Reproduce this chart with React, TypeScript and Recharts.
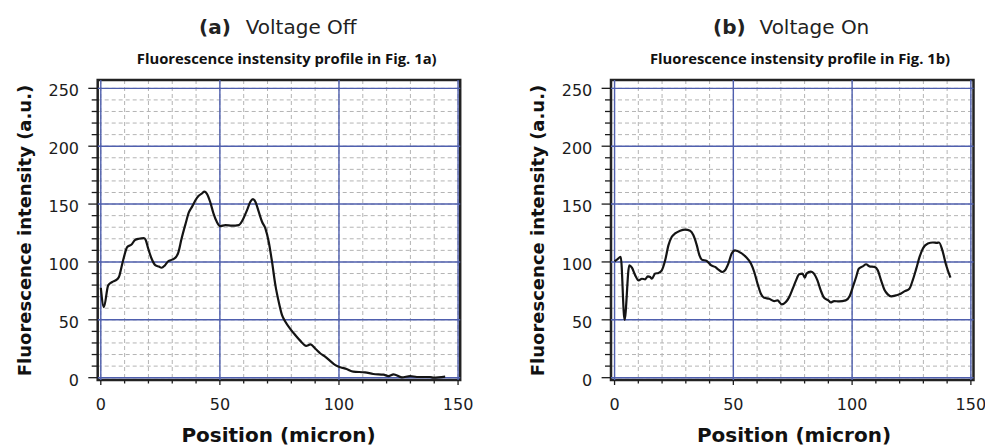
import React from "react";
import {
  CartesianGrid,
  Line,
  LineChart,
  ReferenceArea,
  ReferenceLine,
  XAxis,
  YAxis,
} from "recharts";

// panel (a): voltage off
const posA = [
  0, 1.3, 3.1, 4.8, 6.2, 7.6, 8.7, 9.7, 11.1, 12.9, 14.3, 16, 18.1, 18.9, 19.9,
  21.3, 23, 24.4, 25.5, 26.9, 28.3, 30, 31.4, 32.5, 33.9, 35.6, 37, 38.4, 39.8,
  41, 42.4, 43.5, 44.5, 45.9, 47.3, 48.7, 50.1, 52.3, 55.1, 57.9, 59.5, 61.4,
  62.8, 63.9, 64.9, 66.3, 67.7, 69.1, 70.5, 71.9, 73.3, 74.7, 76.1, 77.5, 79.6,
  81.7, 83.8, 86.2, 88, 90.1, 92.2, 94.3, 96.4, 98.5, 100.6, 103.2, 106, 110.9,
  114.4, 118.7, 120.8, 122.9, 126.4, 129.9, 132.7, 138.3, 139.7, 144.6,
];
const intensityA = [
  77.7, 61, 79.8, 82.7, 84, 87, 95.7, 104, 113, 115, 118.8, 120, 120.5, 118.8,
  111.6, 103, 97, 96, 95, 97, 100.6, 102, 103.8, 107.8, 120, 133, 143, 148,
  153.5, 157, 159, 160.7, 159, 152, 142, 134.7, 131, 131.8, 131.3, 131.8, 136,
  144.8, 152, 154.3, 152, 143.4, 134.7, 129, 117.4, 100, 80, 65.6, 54, 48.3, 42,
  36.7, 31.8, 27.5, 28.7, 25, 20.9, 18, 14.3, 10.8, 9, 7.5, 5.2, 4.6, 3.2, 2.6,
  1.4, 2.9, 0.3, 1.4, 0.6, 0.6, 0, 0.9,
];

// panel (b): voltage on
const posB = [
  0, 1, 2.6, 4.2, 6.2, 7.3, 8.7, 10.1, 11.5, 12.9, 14, 15, 15.7, 17.1, 18.5,
  19.9, 21.3, 22.7, 24.1, 25.5, 27.6, 29.7, 31.8, 33.2, 34.6, 35.7, 36.7, 38.8,
  40.7, 42.3, 43.7, 45.4, 46.5, 47.9, 49.3, 50.7, 53.2, 55.3, 57.4, 58.8, 60.2,
  61.6, 63, 65.1, 67.2, 68.6, 70.4, 72.1, 73.5, 75, 76.4, 77.7, 79.1, 80.1,
  80.8, 82.6, 83.7, 85.4, 86.8, 88.2, 90, 91, 92.4, 94.5, 97.3, 99, 100.4,
  101.7, 102.8, 104.5, 105.9, 107.3, 109.4, 110.8, 112.2, 113.6, 115, 116.4,
  118.5, 119.9, 122, 124.1, 125.5, 127, 128.4, 129.8, 131.9, 134, 135.7, 136.6,
  138, 139.6, 141.4,
];
const intensityB = [
  100.6, 102, 104.5, 50, 97, 95, 88.4, 84, 85.5, 85, 87.6, 87, 85.5, 90, 90.5,
  92.8, 101.4, 114.5, 121.7, 124.6, 127, 128, 127, 123, 114.5, 105.8, 102,
  100.9, 97, 95.7, 93.4, 91.3, 92.8, 98.6, 107.2, 110, 107.8, 104.3, 98.6, 91.3,
  81.2, 72.5, 69, 68.2, 66.2, 66.8, 63.3, 65.3, 69.6, 76.9, 84.1, 89.3, 89.9,
  86.4, 89.9, 91.6, 90.5, 84.1, 75.4, 69, 66.8, 65, 66.2, 65.9, 66.8, 70.5, 79,
  87, 94.2, 96.2, 98, 96.2, 95.7, 92.8, 84.1, 76, 72, 70.2, 71.1, 72, 74.6,
  76.9, 84.1, 94.2, 104.3, 111.6, 115.9, 116.8, 116.5, 116.8, 110, 97.1, 86.4,
];

const xTicks = [0, 10, 20, 30, 40, 50, 60, 70, 80, 90, 100, 110, 120, 130, 140, 150];
const yTicks = [
  0, 10, 20, 30, 40, 50, 60, 70, 80, 90, 100, 110, 120, 130, 140, 150, 160, 170,
  180, 190, 200, 210, 220, 230, 240, 250,
];
const xMajor = [0, 50, 100, 150];
const yMajor = [0, 50, 100, 150, 200, 250];

const FONT = "'DejaVu Sans', sans-serif";
const BLUE = "#4f5fae";
const INK = "#1c1c1c";

const YTick = (props: any) => {
  const { x, y, payload } = props;
  const major = payload.value % 50 === 0;
  return (
    <g>
      <line x1={x - (major ? 9.4 : 6)} x2={x} y1={y} y2={y} stroke={INK} strokeWidth={1.3} />
      {major && (
        <text x={x - 18.7} y={y} dy={8} textAnchor="end" fontSize={16} fontFamily={FONT} fill={INK}>
          {payload.value}
        </text>
      )}
    </g>
  );
};

const XTick = (props: any) => {
  const { x, y, payload } = props;
  const major = payload.value % 50 === 0;
  return (
    <g>
      <line x1={x} x2={x} y1={y} y2={y + (major ? 5 : 3.5)} stroke={INK} strokeWidth={1.3} />
      {major && (
        <text x={x} y={y} dy={30} textAnchor="middle" fontSize={16} fontFamily={FONT} fill={INK}>
          {payload.value}
        </text>
      )}
    </g>
  );
};

type PanelProps = {
  pos: number[];
  values: number[];
  left: number;
  width: number;
  margin: { top: number; right: number; bottom: number; left: number };
  xDomain: [number, number];
};

const yDomain: [number, number] = [-2, 257.2];

function Panel({ pos, values, left, width, margin, xDomain }: PanelProps) {
  const data = pos.map((p, i) => ({ x: p, y: values[i] }));
  return (
    <div style={{ position: "absolute", left, top: 0 }}>
      <LineChart width={width} height={446} data={data} margin={margin}>
        <CartesianGrid stroke="#b4b4b4" strokeDasharray="4 3" strokeWidth={1} />
        <XAxis
          type="number"
          dataKey="x"
          domain={xDomain}
          ticks={xTicks}
          interval={0}
          height={40}
          axisLine={false}
          tickLine={false}
          tickSize={0}
          tickMargin={0}
          tick={<XTick />}
        />
        <YAxis
          type="number"
          domain={yDomain}
          ticks={yTicks}
          interval={0}
          width={60}
          axisLine={false}
          tickLine={false}
          tickSize={0}
          tickMargin={0}
          tick={<YTick />}
        />
        {xMajor.map((v) => (
          <ReferenceLine key={`x${v}`} x={v} stroke={BLUE} strokeWidth={1.4} />
        ))}
        {yMajor.map((v) => (
          <ReferenceLine key={`y${v}`} y={v} stroke={BLUE} strokeWidth={1.4} />
        ))}
        <Line
          type="monotone"
          dataKey="y"
          stroke="#141414"
          strokeWidth={2.2}
          dot={false}
          isAnimationActive={false}
        />
        <ReferenceArea
          x1={xDomain[0]}
          x2={xDomain[1]}
          y1={yDomain[0]}
          y2={yDomain[1]}
          fill="none"
          stroke="#222"
          strokeWidth={2.5}
        />
      </LineChart>
    </div>
  );
}

function Labels() {
  // tag and name placed separately so the gap between them matches
  const title = (tagX: number, nameX: number, tag: string, name: string) => (
    <g fontSize={20} fontFamily={FONT} fill="#222">
      <text x={tagX} y={34.3} fontWeight="bold">
        {tag}
      </text>
      <text x={nameX} y={34.3}>
        {name}
      </text>
    </g>
  );
  const sub = (cx: number, txt: string) => (
    <text x={cx} y={64} textAnchor="middle" fontSize={14.8} fontWeight="bold" fontFamily="'Open Sans', sans-serif" fill="#111">
      {txt}
    </text>
  );
  const xLabel = (cx: number) => (
    <text x={cx} y={441.7} textAnchor="middle" fontSize={20} fontWeight="bold" fontFamily={FONT} fill="#111">
      Position (micron)
    </text>
  );
  const yLabel = (bx: number) => (
    <text
      x={bx}
      y={230.5}
      transform={`rotate(-90, ${bx}, 230.5)`}
      textAnchor="middle"
      fontSize={18}
      fontWeight="bold"
      fontFamily={FONT}
      fill="#111"
    >
      Fluorescence intensity (a.u.)
    </text>
  );
  return (
    <svg width={985} height={446} style={{ position: "absolute", left: 0, top: 0, pointerEvents: "none" }}>
      {title(199, 245.7, "(a)", "Voltage Off")}
      {title(713, 759.5, "(b)", "Voltage On")}
      {sub(286.7, "Fluorescence instensity profile in Fig. 1a)")}
      {sub(800, "Fluorescence instensity profile in Fig. 1b)")}
      {xLabel(278.5)}
      {xLabel(794)}
      {yLabel(31)}
      {yLabel(544.3)}
    </svg>
  );
}

export default function App() {
  return (
    <div style={{ position: "absolute", left: 0, top: 0, width: 985, height: 446, background: "#fff", overflow: "hidden" }}>
      <Panel
        pos={posA}
        values={intensityA}
        left={0}
        width={490}
        margin={{ top: 80, left: 37.7, right: 29.8, bottom: 26 }}
        xDomain={[-1.3, 150.9]}
      />
      <Panel
        pos={posB}
        values={intensityB}
        left={490}
        width={495}
        margin={{ top: 80, left: 61, right: 11.5, bottom: 26 }}
        xDomain={[-1.5, 151.1]}
      />
      <Labels />
    </div>
  );
}
